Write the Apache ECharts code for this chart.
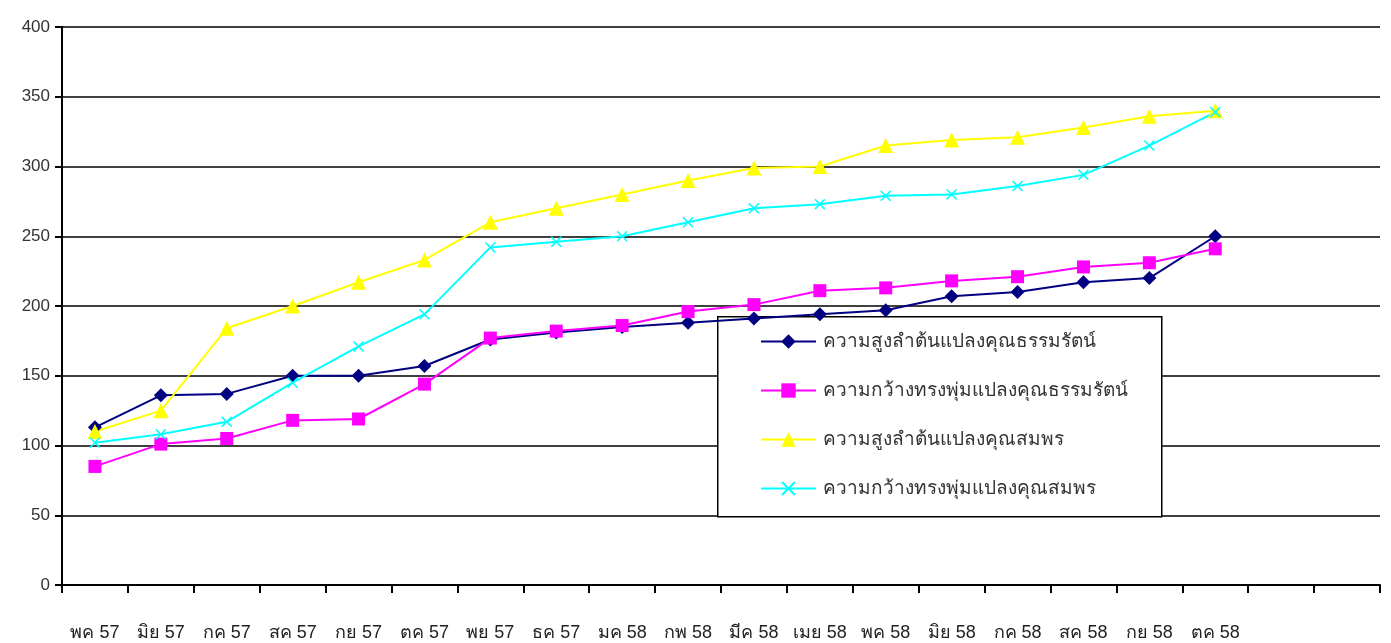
<!DOCTYPE html>
<html>
<head>
<meta charset="utf-8">
<script src="https://cdn.jsdelivr.net/npm/echarts@6/dist/echarts.min.js"></script>
<style>
  html, body { margin: 0; padding: 0; background: #fff; }
  #chart { width: 1391px; height: 643px; }
</style>
</head>
<body>
<div id="chart"></div>
<script>
// Monthly categories (two trailing empty slots on the axis)
const months = ['พค 57', 'มิย 57', 'กค 57', 'สค 57', 'กย 57', 'ตค 57', 'พย 57', 'ธค 57', 'มค 58',
  'กพ 58', 'มีค 58', 'เมย 58', 'พค 58', 'มิย 58', 'กค 58', 'สค 58', 'กย 58', 'ตค 58', '', ''];

const seriesNames = [
  'ความสูงลำต้นแปลงคุณธรรมรัตน์',
  'ความกว้างทรงพุ่มแปลงคุณธรรมรัตน์',
  'ความสูงลำต้นแปลงคุณสมพร',
  'ความกว้างทรงพุ่มแปลงคุณสมพร'
];

const heightThammarat = [113, 136, 137, 150, 150, 157, 176, 181, 185, 188, 191, 194, 197, 207, 210, 217, 220, 250];
const widthThammarat  = [85, 101, 105, 118, 119, 144, 177, 182, 186, 196, 201, 211, 213, 218, 221, 228, 231, 241];
const heightSomporn   = [110, 125, 184, 200, 217, 233, 260, 270, 280, 290, 299, 300, 315, 319, 321, 328, 336, 340];
const widthSomporn    = [102, 108, 117, 145, 171, 194, 242, 246, 250, 260, 270, 273, 279, 280, 286, 294, 315, 339];

const yTicks = { min: 0, max: 400, interval: 50 };

const crossPath = 'path://M0,1 L1,0 L5,4 L9,0 L10,1 L6,5 L10,9 L9,10 L5,6 L1,10 L0,9 L4,5 Z';

function lineSeries(name, data, color, symbol, size) {
  return {
    name: name,
    type: 'line',
    data: data,
    symbol: symbol,
    symbolSize: size,
    showAllSymbol: true,
    lineStyle: { color: color, width: 2 },
    itemStyle: { color: color },
    emphasis: { disabled: true },
    animation: false
  };
}

const chart = echarts.init(document.getElementById('chart'), null, { renderer: 'canvas' });
chart.setOption({
  backgroundColor: '#ffffff',
  animation: false,
  grid: { left: 62, right: 11, top: 27, bottom: 58, containLabel: false },
  xAxis: {
    type: 'category',
    data: months,
    boundaryGap: true,
    axisLine: { lineStyle: { color: '#000', width: 2 } },
    axisTick: { show: true, length: 8, lineStyle: { color: '#000', width: 2 }, alignWithLabel: false },
    axisLabel: {
      interval: 0,
      margin: 39,
      color: '#222',
      fontSize: 18,
      fontFamily: 'Liberation Sans Narrow, Liberation Sans, sans-serif'
    },
    splitLine: { show: false }
  },
  yAxis: {
    type: 'value',
    min: yTicks.min,
    max: yTicks.max,
    interval: yTicks.interval,
    axisLine: { show: true, lineStyle: { color: '#000', width: 2 } },
    axisTick: { show: true, length: 7, lineStyle: { color: '#000', width: 2 } },
    axisLabel: {
      margin: 12,
      color: '#333',
      fontSize: 17,
      fontFamily: 'Liberation Sans, Arial, sans-serif'
    },
    splitLine: { show: true, lineStyle: { color: '#000', width: 1.5 } }
  },
  legend: {
    orient: 'vertical',
    left: 760,
    top: 332,
    itemWidth: 55,
    itemHeight: 18,
    itemGap: 30,
    padding: 0,
    data: seriesNames,
    textStyle: {
      color: '#333',
      fontSize: 19,
      fontFamily: 'Liberation Sans, sans-serif',
      padding: [0, 0, 0, 2]
    },
    selectedMode: false
  },
  graphic: [{
    type: 'rect',
    left: 717,
    top: 316,
    shape: { width: 444, height: 200 },
    style: { fill: '#fff', stroke: '#000', lineWidth: 1.5 },
    z: 3
  }],
  series: [
    lineSeries(seriesNames[0], heightThammarat, '#000080', 'diamond', 14),
    lineSeries(seriesNames[1], widthThammarat, '#ff00ff', 'rect', 13),
    lineSeries(seriesNames[2], heightSomporn, '#ffff00', 'triangle', 15),
    lineSeries(seriesNames[3], widthSomporn, '#00ffff', crossPath, 11)
  ]
});
</script>
</body>
</html>
